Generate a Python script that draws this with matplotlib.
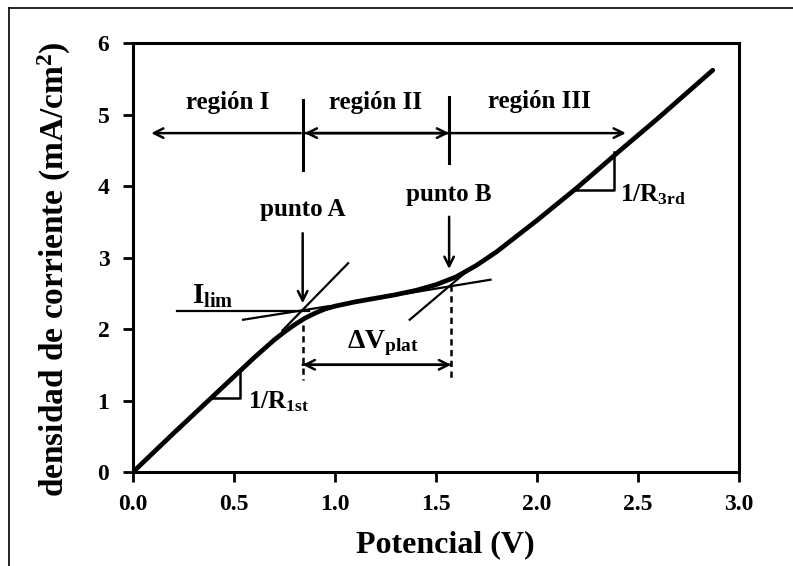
import matplotlib
matplotlib.use('Agg')
import matplotlib.pyplot as plt
from matplotlib.lines import Line2D

# curva de polarizacion
potencial = [0, 0.2, 0.4, 0.6, 0.7, 0.75, 0.8, 0.85, 0.9, 0.95, 1.0, 1.1, 1.2, 1.3,
             1.4, 1.5, 1.6, 1.7, 1.8, 2.0, 2.2, 2.4, 2.6, 2.87]
corriente = [0, 0.54, 1.07, 1.6, 1.85, 1.96, 2.06, 2.15, 2.22, 2.28, 2.32, 2.38, 2.43, 2.48,
             2.54, 2.62, 2.73, 2.89, 3.08, 3.52, 3.98, 4.47, 4.95, 5.62]

# rectas tangentes
tan_A_x, tan_A_y = [0.74, 1.065], [1.98, 2.92]
plat_A_x, plat_A_y = [0.545, 0.97], [2.13, 2.32]
ilim_x, ilim_y = [0.22, 0.87], [2.25, 2.25]
tan_B_x, tan_B_y = [1.37, 1.65], [2.13, 2.8]
plat_B_x, plat_B_y = [1.36, 1.77], [2.5, 2.69]

V_A, V_B = 0.84, 1.575
xticks = [0.0, 0.5, 1.0, 1.5, 2.0, 2.5, 3.0]
xlabels = ['0.0', '0.5', '1.0', '1.5', '2.0', '2.5', '3.0']
yticks = [0, 1, 2, 3, 4, 5, 6]

plt.rcParams['font.family'] = 'Liberation Serif'
plt.rcParams['font.weight'] = 'bold'
plt.rcParams['axes.labelweight'] = 'bold'
plt.rcParams['mathtext.fontset'] = 'custom'
plt.rcParams['mathtext.rm'] = 'Liberation Serif:bold'
plt.rcParams['mathtext.it'] = 'Liberation Serif:bold'
plt.rcParams['mathtext.bf'] = 'Liberation Serif:bold'

fig = plt.figure(figsize=(7.93, 5.66), dpi=100)
ax = fig.add_axes([0.1677, 0.166, 0.7642, 0.758])

ax.plot(potencial, corriente, color='black', lw=3.4, solid_capstyle='round',
        solid_joinstyle='round', zorder=3)
for xs, ys in [(tan_A_x, tan_A_y), (plat_A_x, plat_A_y), (ilim_x, ilim_y),
               (tan_B_x, tan_B_y), (plat_B_x, plat_B_y)]:
    ax.plot(xs, ys, color='black', lw=1.6, zorder=2)

# lineas discontinuas
ax.plot([V_A, V_A], [2.05, 1.29], color='black', lw=1.8, ls=(0, (2.5, 1.8)))
ax.plot([V_B, V_B], [2.62, 1.29], color='black', lw=1.8, ls=(0, (2.5, 1.8)))

arrow = dict(arrowstyle='->', color='black', lw=1.8, mutation_scale=17,
             shrinkA=0, shrinkB=0)
# delta V plat
ax.annotate('', xy=(V_A, 1.5), xytext=(V_B, 1.5), arrowprops=arrow)
ax.annotate('', xy=(V_B, 1.5), xytext=(V_A, 1.5), arrowprops=arrow)
ax.text((V_A + V_B) / 2 + 0.03, 1.8, r'$\mathrm{\Delta V_{plat}}$', ha='center', va='center', fontsize=20)

# regiones
yr = 4.74
ax.annotate('', xy=(0.09, yr), xytext=(V_A - 0.01, yr), arrowprops=arrow)
ax.annotate('', xy=(V_A + 0.01, yr), xytext=(V_B - 0.01, yr), arrowprops=arrow)
ax.annotate('', xy=(V_B - 0.01, yr), xytext=(V_A + 0.01, yr), arrowprops=arrow)
ax.annotate('', xy=(2.44, yr), xytext=(V_B, yr), arrowprops=arrow)
ax.plot([V_A, V_A], [4.22, 5.2], color='black', lw=2.2)
ax.plot([V_B - 0.01, V_B - 0.01], [4.32, 5.25], color='black', lw=2.2)
ax.text(0.47, 5.17, 'región I', ha='center', va='center', fontsize=18)
ax.text(1.2, 5.17, 'región II', ha='center', va='center', fontsize=18)
ax.text(2.01, 5.18, 'región III', ha='center', va='center', fontsize=18)

# puntos A y B
ax.text(V_A, 3.67, 'punto A', ha='center', va='center', fontsize=18)
ax.annotate('', xy=(V_A, 2.36), xytext=(V_A, 3.34), arrowprops=arrow)
ax.text(1.565, 3.88, 'punto B', ha='center', va='center', fontsize=18)
ax.annotate('', xy=(1.565, 2.84), xytext=(1.565, 3.57), arrowprops=arrow)

ax.text(0.29, 2.46, r'$\mathrm{I_{lim}}$', ha='left', va='center', fontsize=21)

# triangulos de pendiente
ax.plot([0.39, 0.53, 0.53], [1.03, 1.03, 1.43], color='black', lw=1.8)
ax.text(0.57, 0.98, r'$\mathrm{1/R_{1st}}$', ha='left', va='center', fontsize=18)
ax.plot([2.18, 2.38, 2.38], [3.94, 3.94, 4.48], color='black', lw=1.8)
ax.text(2.41, 3.88, r'$\mathrm{1/R_{3rd}}$', ha='left', va='center', fontsize=18)

ax.set_xlim(0, 3.0)
ax.set_ylim(0, 6)
ax.set_xticks(xticks)
ax.set_xticklabels(xlabels)
ax.set_yticks(yticks)
ax.tick_params(direction='out', length=7, width=2, labelsize=17, pad=9)
ax.tick_params(axis='y', pad=10)
for s in ax.spines.values():
    s.set_linewidth(2.2)
ax.set_xlabel('Potencial (V)', fontsize=23)
ax.set_ylabel('densidad de corriente (mA/cm$^2$)', fontsize=24)
ax.xaxis.set_label_coords(0.5157, -0.135)
ax.yaxis.set_label_coords(-0.099, 0.473)

# marco exterior
fig.add_artist(Line2D([9 / 793, 9 / 793], [0, 1 - 8 / 566], transform=fig.transFigure, color='black', lw=1.2))
fig.add_artist(Line2D([9 / 793, 1], [1 - 8 / 566, 1 - 8 / 566], transform=fig.transFigure, color='black', lw=1.2))

fig.savefig('out.png', dpi=100)
